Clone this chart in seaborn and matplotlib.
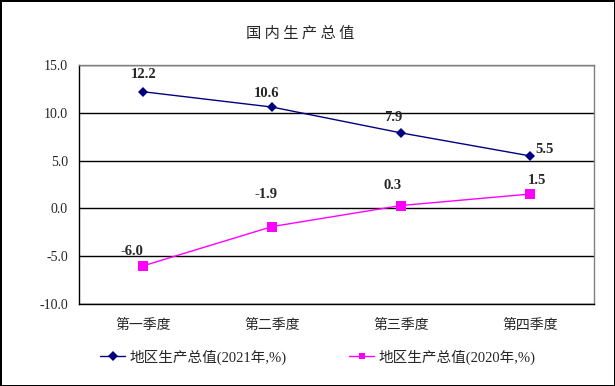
import matplotlib
matplotlib.use('Agg')
import seaborn as sns
import numpy as np
import pandas as pd
import matplotlib.pyplot as plt

quarters = ['第一季度', '第二季度', '第三季度', '第四季度']
gdp_2021 = [12.2, 10.6, 7.9, 5.5]
gdp_2020 = [-6.0, -1.9, 0.3, 1.5]
name_2021 = '地区生产总值(2021年,%)'
name_2020 = '地区生产总值(2020年,%)'
yticks = [-10, -5, 0, 5, 10, 15]

df = pd.DataFrame({'季度': quarters * 2,
                   '值': gdp_2021 + gdp_2020,
                   '系列': [name_2021] * 4 + [name_2020] * 4})

sns.set_style('white')
fams = ['Liberation Serif', 'Noto Sans CJK SC']
plt.rcParams['font.family'] = fams

fig = plt.figure(figsize=(6.15, 3.86), dpi=100)
fig.patch.set_edgecolor('black')
fig.patch.set_linewidth(2)
ax = fig.add_axes([0.1285, 0.2124, 0.8374, 0.6192])

sns.lineplot(data=df, x='季度', y='值', hue='系列', style='系列',
             palette={name_2021: '#000080', name_2020: '#FF00FF'},
             markers={name_2021: 'D', name_2020: 's'}, dashes=False,
             markersize=6, linewidth=1, markeredgewidth=0, ax=ax, legend=True)
# size the markers individually
for ln, ms in zip(ax.lines[:2], [5, 7.5]):
    ln.set_markersize(ms)

ax.set_xlim(-0.5, 3.5)
ax.set_ylim(-10, 15)
ax.set_yticks(yticks)
ax.set_yticklabels([f'{v:.1f}' for v in yticks], fontsize=10, family='Liberation Serif')
ax.set_xticks(range(4))
ax.set_xticklabels(quarters, fontsize=10, family='Noto Sans CJK SC')
ax.set_xticks([0.5, 1.5, 2.5, 3.5], minor=True)
ax.tick_params(axis='x', which='major', length=0, pad=10)
ax.tick_params(axis='x', which='minor', direction='in', length=4, width=0.8, color='black')
ax.tick_params(axis='y', length=0, pad=8)
ax.set_xlabel('')
ax.set_ylabel('')

ax.yaxis.grid(True, color='black', linewidth=1)
ax.set_axisbelow(True)
for s in ['left', 'bottom']:
    ax.spines[s].set_color('black')
    ax.spines[s].set_linewidth(1)
for s in ['top', 'right']:
    ax.spines[s].set_color('#808080')
    ax.spines[s].set_linewidth(1)

offs_2021 = [(0, 17), (-6, 14), (-8, 15), (15, 6)]
offs_2020 = [(-11, 14), (-6, 32), (-8, 20), (7, 14)]
for vals, offs in [(gdp_2021, offs_2021), (gdp_2020, offs_2020)]:
    for i, (v, o) in enumerate(zip(vals, offs)):
        ax.annotate(f'{v:.1f}', (i, v), xytext=o, textcoords='offset pixels',
                    ha='center', va='center', fontsize=10.5, fontweight='bold',
                    family='Liberation Serif')

ax.get_legend().remove()
h, l = ax.get_legend_handles_labels()
for hh in h:
    hh.set_markersize(hh.get_markersize() * 0.8)
fig.legend(h, l, loc='center', bbox_to_anchor=(0.517, 0.075), ncol=2, frameon=False,
           fontsize=10.5, handlelength=1.7, handletextpad=0.3, columnspacing=4.3)

fig.text(0.488, 0.915, '国 内 生 产 总 值', ha='center', va='center',
         fontsize=11, family='Noto Sans CJK SC')

fig.savefig('out.png', dpi=100, edgecolor=fig.get_edgecolor())
